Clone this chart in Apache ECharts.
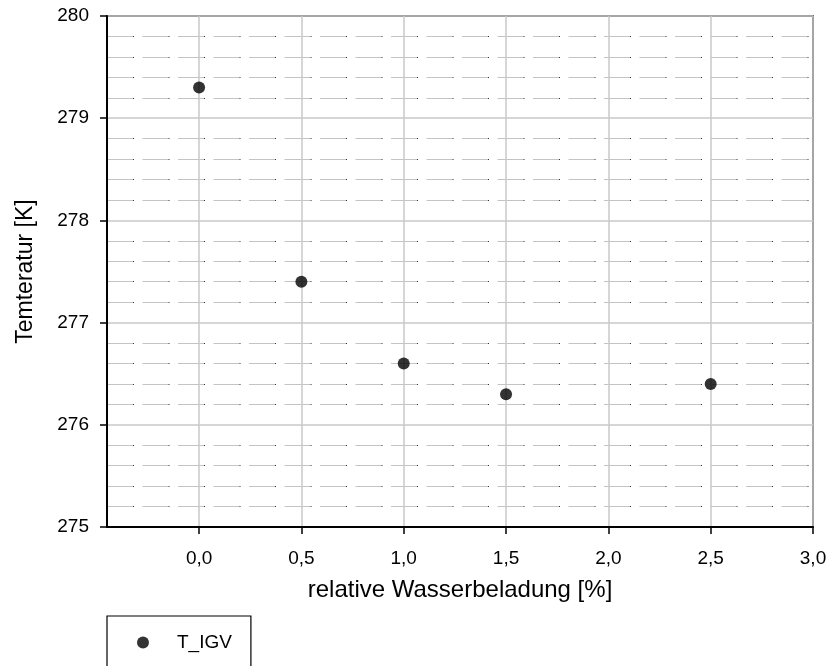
<!DOCTYPE html>
<html>
<head>
<meta charset="utf-8">
<script src="https://cdn.jsdelivr.net/npm/echarts@6/dist/echarts.min.js"></script>
<style>html,body{margin:0;padding:0;background:#fff}#c{width:830px;height:666px}</style>
</head>
<body>
<div id="c"></div>
<script>
var seriesName = 'T_IGV';
var xValues = [0.0, 0.5, 1.0, 1.5, 2.5];
var yValues = [279.3, 277.4, 276.6, 276.3, 276.4];
var xTicks = [0, 0.5, 1.0, 1.5, 2.0, 2.5, 3.0];
var xTitle = 'relative Wasserbeladung [%]';
var yTitle = 'Temteratur [K]';

var FONT = '"Liberation Sans", Arial, sans-serif';
var points = xValues.map(function (x, i) { return [x, yValues[i]]; });

var chart = echarts.init(document.getElementById('c'));
chart.setOption({
  animation: false,
  backgroundColor: '#fff',
  grid: { left: 107, right: 17, top: 16, bottom: 139, show: true, borderColor: '#000', borderWidth: 1.5, backgroundColor: 'transparent' },
  xAxis: {
    type: 'value', min: -0.45, max: 3,
    name: xTitle, nameLocation: 'middle', nameGap: 51,
    nameTextStyle: { fontFamily: FONT, fontSize: 24, color: '#000' },
    axisLine: { show: true, onZero: false, lineStyle: { color: '#000', width: 2 } },
    axisTick: { show: true, length: 7, customValues: xTicks, lineStyle: { color: '#000', width: 1.5 } },
    axisLabel: { customValues: xTicks, fontFamily: FONT, fontSize: 19, color: '#000', margin: 22,
      formatter: function (v) { return v.toFixed(1).replace('.', ','); } },
    splitLine: { show: true, lineStyle: { color: '#c8c8c8', width: 1.5 } }
  },
  yAxis: [{
    type: 'value', min: 275, max: 280, interval: 1,
    name: yTitle, nameLocation: 'middle', nameGap: 70, nameRotate: 90,
    nameTextStyle: { fontFamily: FONT, fontSize: 23, color: '#000' },
    axisLine: { show: true, onZero: false, lineStyle: { color: '#000', width: 2 } },
    axisTick: { show: true, length: 7, lineStyle: { color: '#000', width: 1.5 } },
    axisLabel: { fontFamily: FONT, fontSize: 19, color: '#000', margin: 18 },
    splitLine: { show: true, lineStyle: { color: '#c8c8c8', width: 1.5 } },
    minorTick: { show: false, splitNumber: 5 },
    minorSplitLine: { show: true, lineStyle: { color: '#c4c4c4', width: 1.2, type: [26, 9.5] } }
  }, {
    type: 'value', min: 275, max: 280, interval: 1, position: 'left',
    axisLine: { show: false, onZero: false }, axisTick: { show: false }, axisLabel: { show: false },
    splitLine: { show: false },
    minorTick: { show: false, splitNumber: 5 },
    minorSplitLine: { show: true, lineStyle: { color: '#333', width: 1, type: [1, 34.5], dashOffset: 9.5 } }
  }],
  legend: {
    show: true, left: 107, top: 616,
    orient: 'vertical',
    borderColor: '#000', borderWidth: 1.2,
    padding: [17, 19, 40, 30],
    itemWidth: 12, itemHeight: 12,
    icon: 'circle',
    textStyle: { fontFamily: FONT, fontSize: 19, color: '#000', padding: [0, 0, 0, 23] },
    data: [seriesName]
  },
  series: [{
    name: seriesName, type: 'scatter', yAxisIndex: 0,
    symbol: 'circle', symbolSize: 12,
    itemStyle: { color: '#000' },
    data: points, z: 10
  }]
});
</script>
</body>
</html>
